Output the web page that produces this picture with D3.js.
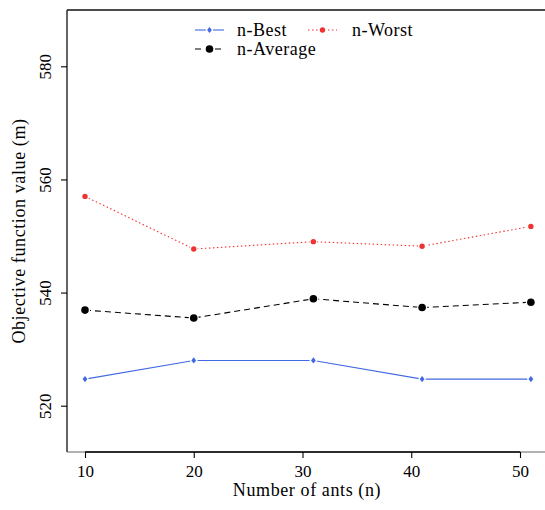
<!DOCTYPE html>
<html><head><meta charset="utf-8">
<script src="https://cdn.jsdelivr.net/npm/d3@7/dist/d3.min.js"></script>
<style>body{margin:0;background:#fff}</style>
</head><body>
<svg id="c" width="545" height="510"></svg>
<script>
const antCounts = [10, 20, 31, 41, 51];
const bestValues = [524.7, 528.0, 528.0, 524.7, 524.7];
const worstValues = [557.0, 547.7, 549.0, 548.2, 551.7];
const averageValues = [536.9, 535.5, 538.9, 537.35, 538.3];
const xTicks = [10, 20, 30, 40, 50];
const yTicks = [520, 540, 560, 580];
const seriesNames = ["n-Best", "n-Worst", "n-Average"];

const font = "'Liberation Serif', 'DejaVu Serif', serif";
const svg = d3.select("#c");
const L = 67, T = 10, B = 452, R = 560;
const x = d3.scaleLinear().domain([10, 50]).range([85, 520]);
const y = d3.scaleLinear().domain([520, 580]).range([405.7, 66.3]);

// frame lines: top, left, bottom
svg.append("line").attr("x1", L).attr("x2", R).attr("y1", T).attr("y2", T).attr("stroke", "#111").attr("stroke-width", 1.3);
svg.append("line").attr("x1", L).attr("x2", L).attr("y1", T).attr("y2", B).attr("stroke", "#111").attr("stroke-width", 1.3);
svg.append("line").attr("x1", L).attr("x2", R).attr("y1", B).attr("y2", B).attr("stroke", "#666").attr("stroke-width", 1.2);

const xAxis = svg.append("g").attr("transform", `translate(0,${B})`)
  .call(d3.axisBottom(x).tickValues(xTicks).tickSize(6).tickPadding(7).tickFormat(d3.format("d")));
xAxis.select(".domain").attr("d", `M${x(10)},0H${x(50)}`).attr("stroke-width", 1.3);
xAxis.selectAll("line").attr("stroke-width", 1.1);
xAxis.selectAll("text").attr("font-family", font).attr("font-size", 17).attr("fill", "#000");

const yAxis = svg.append("g").attr("transform", `translate(${L},0)`)
  .call(d3.axisLeft(y).tickValues(yTicks).tickSize(6).tickFormat(d3.format("d")));
yAxis.select(".domain").remove();
yAxis.selectAll("line").attr("stroke-width", 1.1);
yAxis.selectAll(".tick text").attr("font-family", font).attr("font-size", 17).attr("fill", "#000")
  .attr("text-anchor", "middle").attr("x", 0).attr("dy", 0)
  .attr("transform", "translate(-22,0) rotate(-90)").attr("dominant-baseline", "central");

svg.append("text").attr("x", 307).attr("y", 496).attr("text-anchor", "middle")
  .attr("font-family", font).attr("font-size", 18).attr("letter-spacing", 0.6).text("Number of ants (n)");
svg.append("text").attr("transform", `translate(25,${(T + B) / 2}) rotate(-90)`).attr("text-anchor", "middle")
  .attr("font-family", font).attr("font-size", 18).attr("letter-spacing", 0.6).text("Objective function value (m)");

const series = [
  {name: seriesNames[0], vals: bestValues, color: "#4169E1", dash: null, shape: "diamond", r: 2.4},
  {name: seriesNames[1], vals: worstValues, color: "#EE3333", dash: "1.5,2.5", shape: "circle", r: 2.7},
  {name: seriesNames[2], vals: averageValues, color: "#000", dash: "6,4", shape: "circle", r: 3.8}
];
const line = d3.line().x((d, i) => x(antCounts[i])).y(d => y(d));
function marker(g, s, cx, cy) {
  if (s.shape === "diamond") {
    g.append("path").attr("d", `M${cx},${cy - s.r * 1.3}L${cx + s.r},${cy}L${cx},${cy + s.r * 1.3}L${cx - s.r},${cy}Z`)
      .attr("fill", s.color).attr("stroke", "#fff").attr("stroke-width", 2.5).attr("paint-order", "stroke");
  } else {
    g.append("circle").attr("cx", cx).attr("cy", cy).attr("r", s.r).attr("fill", s.color)
      .attr("stroke", "#fff").attr("stroke-width", 2.5).attr("paint-order", "stroke");
  }
}
series.forEach(s => {
  svg.append("path").datum(s.vals).attr("d", line).attr("fill", "none").attr("stroke", s.color)
    .attr("stroke-width", 1.1).attr("stroke-dasharray", s.dash);
  const g = svg.append("g");
  s.vals.forEach((v, i) => marker(g, s, x(antCounts[i]), y(v)));
});

// legend
const legendPos = [{lx: 195, ly: 30, tx: 237}, {lx: 308, ly: 30, tx: 352}, {lx: 195, ly: 49, tx: 237}];
series.forEach((s, i) => {
  const p = legendPos[i];
  svg.append("line").attr("x1", p.lx).attr("x2", p.lx + 29).attr("y1", p.ly).attr("y2", p.ly)
    .attr("stroke", s.color).attr("stroke-width", 1.1).attr("stroke-dasharray", s.dash);
  const g = svg.append("g");
  marker(g, s, p.lx + 14.5, p.ly);
  svg.append("text").attr("x", p.tx).attr("y", p.ly).attr("dy", "0.35em").attr("font-family", font)
    .attr("font-size", 18).attr("letter-spacing", 0.5).text(s.name);
});
</script>
</body></html>
